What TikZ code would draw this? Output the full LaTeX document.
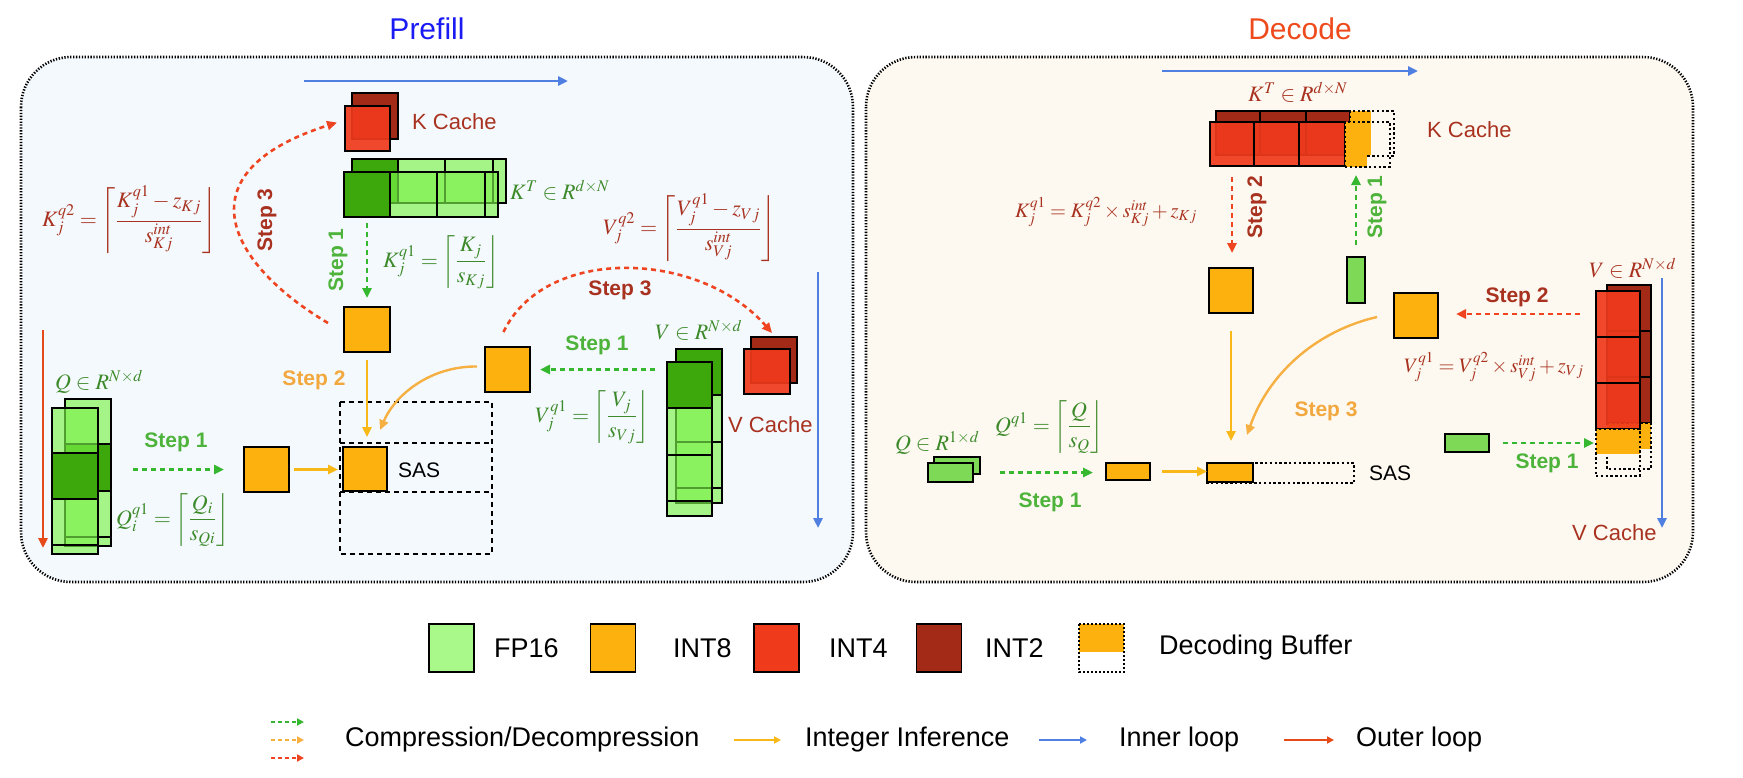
\documentclass[tikz,border=0pt]{standalone}
\usepackage{mathptmx}
\usepackage[no-math]{fontspec}
\setsansfont{Liberation Sans}
\usetikzlibrary{arrows.meta,calc}
\definecolor{cFP}{HTML}{A8F88A}
\definecolor{cBright}{HTML}{7CF24A}
\definecolor{cDG}{HTML}{3CA80C}
\definecolor{cI8}{HTML}{FCB10F}
\definecolor{cI4}{HTML}{F03A1C}
\definecolor{cI2}{HTML}{A32A17}
\definecolor{cDR}{HTML}{A8321F}
\definecolor{cGT}{HTML}{3D8A2A}
\definecolor{cGS}{HTML}{4DB33A}
\definecolor{cGA}{HTML}{35B830}
\definecolor{cOS}{HTML}{F2A83E}
\definecolor{cOA}{HTML}{F8B818}
\definecolor{cOL}{HTML}{F5B041}
\definecolor{cBlue}{HTML}{4F7FE0}
\definecolor{cOuter}{HTML}{E64A19}
\definecolor{cRA}{HTML}{EE4420}
\definecolor{cPre}{HTML}{F4F9FE}
\definecolor{cDec}{HTML}{FDF9F1}
\definecolor{cTB}{HTML}{1A1AF5}
\definecolor{cTR}{HTML}{EE4A1C}
\definecolor{cGM}{HTML}{7ED957}
\newcommand{\bx}[6]{\node[#1,minimum width={(#5-#3)*1pt},minimum height={(#6-#4)*1pt}] (#2) at ({(#3+#5)/2},{(#4+#6)/2}) {};}
\tikzset{
 panel/.style={line width=2.6pt, dash pattern=on 1.3pt off 1.6pt, rounded corners=50pt},
 blkbase/.style={draw=black, line width=2.2pt, inner sep=0pt, outer sep=0pt, rectangle},
 fpb/.style={blkbase, fill=cBright, fill opacity=0.65},
 dgb/.style={blkbase, fill=cDG},
 i8b/.style={blkbase, fill=cI8},
 i4b/.style={blkbase, fill=cI4, fill opacity=0.92},
 i2b/.style={blkbase, fill=cI2},
 gmb/.style={blkbase, fill=cGM},
 bufb/.style={draw=black, line width=2.4pt, dash pattern=on 2.4pt off 2.4pt, inner sep=0pt, outer sep=0pt, rectangle},
 bufline/.style={draw=black, line width=2.4pt, dash pattern=on 2.4pt off 2.4pt},
 sasdash/.style={draw=black, line width=2.6pt, dash pattern=on 5pt off 4pt},
 tipA/.style={-{Triangle[length=10pt,width=9pt]}},
 tipS/.style={-{Triangle[length=7pt,width=7pt]}},
 gdash/.style={draw=cGA, line width=2.6pt, dash pattern=on 5pt off 4pt, tipA},
 rdash/.style={draw=cRA, line width=2.6pt, dash pattern=on 5pt off 4pt, tipA},
 oarrow/.style={draw=cOA, line width=2.4pt, tipA},
 oarrowlight/.style={draw=cOL, line width=2.4pt, tipA},
 blueloop/.style={draw=cBlue, line width=2.6pt, tipA},
 outerloop/.style={draw=cOuter, line width=2.6pt, tipA},
 lbl/.style={font=\sffamily\fontsize{22}{26}\selectfont, inner sep=0pt},
 steplbl/.style={font=\sffamily\bfseries\fontsize{21}{25}\selectfont, inner sep=0pt},
 mth/.style={font=\fontsize{22}{26}\selectfont, inner sep=0pt},
 mths/.style={font=\fontsize{20.5}{24}\selectfont, inner sep=0pt},
 lgtxt/.style={font=\sffamily\fontsize{27}{31}\selectfont, inner sep=0pt, anchor=west},
 lgbox/.style={draw=black, line width=1.6pt, inner sep=0pt, outer sep=0pt, minimum width=45pt, minimum height=48pt},
}
\begin{document}
\begin{tikzpicture}[x=1pt,y=-1pt]
\useasboundingbox (0,0) rectangle (1743,777);
\fill[white] (0,0) rectangle (1743,777);

% panels and titles
\draw[panel, fill=cPre] (21,57) rectangle (853,582);
\draw[panel, fill=cDec] (866,57) rectangle (1693,582);
\node[font=\sffamily\fontsize{30}{34}\selectfont, text=cTB] (tpre) at (427,29) {Prefill};
\node[font=\sffamily\fontsize{30}{34}\selectfont, text=cTR] (tdec) at (1300,29) {Decode};

% ================= PREFILL =================
\coordinate (pil0) at (304,81); \coordinate (pil1) at (568,81);
\draw[blueloop] (pil0) -- (pil1);
\coordinate (piv0) at (818,272); \coordinate (piv1) at (818,528);
\draw[blueloop] (piv0) -- (piv1);
\coordinate (pol0) at (43,330); \coordinate (pol1) at (43,548);
\draw[outerloop] (pol0) -- (pol1);

% K cache
\bx{i2b}{pkc2}{352}{93}{398}{139}
\bx{i4b}{pkc4}{345}{106}{390}{151}
\node[lbl, text=cDR, anchor=west] (pkct) at (412,122) {K Cache};

% K^T blocks
\bx{dgb}{pkb1}{352}{159}{398}{203}
\bx{fpb}{pkb2}{398}{159}{445}{203}
\bx{fpb}{pkb3}{445}{159}{493}{203}
\bx{fpb}{pkb4}{493}{159}{506}{203}
\bx{dgb}{pkf1}{344}{172}{390}{217}
\bx{fpb}{pkf2}{390}{172}{437}{217}
\bx{fpb}{pkf3}{437}{172}{485}{217}
\bx{fpb}{pkf4}{485}{172}{498}{217}
\node[mth, text=cGT, anchor=west] (pktl) at (510,190) {$K^T \in R^{d\times N}$};

% Q stack
\bx{fpb}{pqb1}{65}{399}{111}{444}
\bx{dgb}{pqb2}{65}{444}{111}{491}
\bx{fpb}{pqb3}{65}{491}{111}{537}
\bx{fpb}{pqb4}{65}{537}{111}{546}
\bx{fpb}{pqf1}{52}{408}{98}{453}
\bx{dgb}{pqf2}{52}{453}{98}{499}
\bx{fpb}{pqf3}{52}{499}{98}{545}
\bx{fpb}{pqf4}{52}{545}{98}{554}
\node[mth, text=cGT, anchor=west] (pqtl) at (55,382) {$Q \in R^{N\times d}$};

% V stack
\bx{dgb}{pvb1}{676}{349}{722}{395}
\bx{fpb}{pvb2}{676}{395}{722}{442}
\bx{fpb}{pvb3}{676}{442}{722}{488}
\bx{fpb}{pvb4}{676}{488}{722}{503}
\bx{dgb}{pvf1}{667}{362}{712}{408}
\bx{fpb}{pvf2}{667}{408}{712}{455}
\bx{fpb}{pvf3}{667}{455}{712}{501}
\bx{fpb}{pvf4}{667}{501}{712}{516}
\node[mth, text=cGT, anchor=west] (pvtl) at (655,330) {$V \in R^{N\times d}$};

% V cache
\bx{i2b}{pvc2}{751}{337}{797}{383}
\bx{i4b}{pvc4}{744}{349}{790}{394}
\node[lbl, text=cDR, anchor=west] (pvct) at (728,425) {V Cache};

% INT8 squares and SAS
\bx{i8b}{pkq8}{344}{307}{390}{352}
\bx{i8b}{pqq8}{244}{447}{289}{492}
\bx{i8b}{pvq8}{485}{347}{530}{392}
\draw[sasdash] (340,402) rectangle (492,554);
\draw[sasdash] (340,443) -- (492,443);
\draw[sasdash] (340,492) -- (492,492);
\bx{i8b}{psq8}{343}{447}{387}{491}
\node[lbl, font=\sffamily\fontsize{21}{25}\selectfont, anchor=west] (psas) at (398,470) {SAS};

% formulas
\node[mth, text=cDR, anchor=west] (pfk2) at (42,220) {$\displaystyle K_j^{q2} = \left\lceil \frac{K_j^{q1} - z_{Kj}}{s_{Kj}^{int}} \right\rfloor$};
\node[mth, text=cGT, anchor=west] (pfk1) at (383,262) {$\displaystyle K_j^{q1} = \left\lceil \frac{K_j}{s_{Kj}} \right\rfloor$};
\node[mth, text=cDR, anchor=west] (pfv2) at (603,228) {$\displaystyle V_j^{q2} = \left\lceil \frac{V_j^{q1} - z_{Vj}}{s_{Vj}^{int}} \right\rfloor$};
\node[mth, text=cGT, anchor=west] (pfv1) at (535,417) {$\displaystyle V_j^{q1} = \left\lceil \frac{V_j}{s_{Vj}} \right\rfloor$};
\node[mth, text=cGT, anchor=west] (pfq1) at (116,520) {$\displaystyle Q_i^{q1} = \left\lceil \frac{Q_i}{s_{Qi}} \right\rfloor$};

% step labels
\node[steplbl, text=cDR, rotate=90] (ps3k) at (267,220) {Step 3};
\node[steplbl, text=cGS, rotate=90] (ps1k) at (338,260) {Step 1};
\node[steplbl, text=cDR] (ps3v) at (620,290) {Step 3};
\node[steplbl, text=cGS] (ps1v) at (597,345) {Step 1};
\node[steplbl, text=cOS] (ps2) at (314,380) {Step 2};
\node[steplbl, text=cGS] (ps1q) at (176,442) {Step 1};

% connectors
\draw[gdash, shorten <=6pt, shorten >=9pt] (pkf1.south) -- (pkq8.north);
\draw[rdash] ($(pkq8.north west)+(-16,16)$) .. controls (230,265) and (178,173) .. ($(pkc4.west)+(-8,-6)$);
\draw[oarrow, shorten <=8pt, shorten >=10pt] (pkq8.south) -- (pkq8.south |- psq8.north);
\coordinate (pq1s) at (133,469.5);
\draw[gdash, shorten >=20pt] (pq1s) -- (pqq8.west);
\draw[oarrow, shorten <=5pt, shorten >=5pt] (pqq8.east) -- (pqq8.east -| psq8.west);
\draw[gdash, shorten <=12pt, shorten >=10pt] (pvf1.west |- pvq8.east) -- (pvq8.east);
\draw[rdash] ($(pvq8.north)+(-4,-15)$) .. controls (545,245) and (700,250) .. ($(pvc4.north)+(5,-16)$);
\draw[oarrowlight] ($(pvq8.west)+(-8,-3)$) .. controls (430,366) and (395,395) .. ($(psq8.north east)+(-7,-17)$);

% ================= DECODE =================
\coordinate (dil0) at (1162,71); \coordinate (dil1) at (1418,71);
\draw[blueloop] (dil0) -- (dil1);
\coordinate (div0) at (1662,278); \coordinate (div1) at (1662,528);
\draw[blueloop] (div0) -- (div1);

\node[mth, text=cDR, anchor=west] (dktl) at (1248,92) {$K^T \in R^{d\times N}$};
\bx{i2b}{dkb1}{1216}{111}{1260}{155}
\bx{i2b}{dkb2}{1260}{111}{1306}{155}
\bx{i2b}{dkb3}{1306}{111}{1350}{155}
\fill[cI8] (1350,111) rectangle (1371,155);
\draw[bufline] (1350,111) rectangle (1394,156);
\bx{i4b}{dkf1}{1210}{122}{1254}{166}
\bx{i4b}{dkf2}{1254}{122}{1299}{166}
\bx{i4b}{dkf3}{1299}{122}{1345}{166}
\fill[cI8] (1345,122) rectangle (1367,167);
\bx{bufb}{dkbuf}{1345}{122}{1390}{167}
\node[lbl, text=cDR, anchor=west] (dkct) at (1427,130) {K Cache};

\bx{i8b}{dk8}{1209}{268}{1253}{313}
\bx{gmb}{dkg}{1347}{257}{1365}{303}
\bx{i8b}{dv8}{1394}{293}{1438}{338}

% V stack decode
\node[mth, text=cDR, anchor=west] (dvtl) at (1589,268) {$V \in R^{N\times d}$};
\bx{i2b}{dvb1}{1607}{285}{1651}{331}
\bx{i2b}{dvb2}{1607}{331}{1651}{377}
\bx{i2b}{dvb3}{1607}{377}{1651}{423}
\fill[cI8] (1607,423) rectangle (1651,449);
\draw[bufline] (1607,423) rectangle (1651,469);
\bx{i4b}{dvf1}{1596}{291}{1640}{337}
\bx{i4b}{dvf2}{1596}{337}{1640}{383}
\bx{i4b}{dvf3}{1596}{383}{1640}{429}
\fill[cI8] (1596,429) rectangle (1640,454);
\bx{bufb}{dvbuf}{1596}{429}{1640}{476}
\node[lbl, text=cDR, anchor=west] (dvct) at (1572,533) {V Cache};

\bx{gmb}{dvg}{1445}{434}{1489}{452}

% Q decode
\node[mth, text=cGT, anchor=west] (dqtl) at (895,443) {$Q \in R^{1\times d}$};
\node[mth, text=cGT, anchor=west] (dfq) at (995,427) {$\displaystyle Q^{q1} = \left\lceil \frac{Q}{s_{Q}} \right\rfloor$};
\bx{gmb}{dqb}{934}{457}{980}{474}
\bx{gmb}{dqf}{928}{463}{973}{482}
\bx{i8b}{dq8}{1106}{463}{1150}{480}
\draw[bufline] (1207,463) rectangle (1354,483);
\bx{i8b}{dsq8}{1207}{463}{1253}{482}
\node[lbl, font=\sffamily\fontsize{21}{25}\selectfont, anchor=west] (dsas) at (1369,473) {SAS};

% formulas decode
\node[mths, text=cDR, anchor=west] (dfk) at (1015,212) {$K_j^{q1} = K_j^{q2} \times s_{Kj}^{int} + z_{Kj}$};
\node[mths, text=cDR, anchor=west] (dfv) at (1404,367) {$V_j^{q1} = V_j^{q2} \times s_{Vj}^{int} + z_{Vj}$};

% step labels decode
\node[steplbl, text=cDR, rotate=90] (ds2k) at (1257,207) {Step 2};
\node[steplbl, text=cGS, rotate=90] (ds1k) at (1377,207) {Step 1};
\node[steplbl, text=cDR] (ds2v) at (1517,297) {Step 2};
\node[steplbl, text=cOS] (ds3) at (1326,411) {Step 3};
\node[steplbl, text=cGS] (ds1v) at (1547,463) {Step 1};
\node[steplbl, text=cGS] (ds1q) at (1050,502) {Step 1};

% connectors decode
\draw[rdash, shorten <=11pt, shorten >=15pt] (dkf1.south) -- (dkf1.south |- dk8.north);
\draw[gdash, shorten <=12pt, shorten >=8pt] (dkg.north) -- (dkg.north |- dkbuf.south);
\draw[oarrow, shorten <=18pt, shorten >=22pt] (dk8.south) -- (dk8.south |- dsq8.north);
\draw[oarrowlight] ($(dv8.west)+(-17,1.5)$) .. controls (1320,330) and (1270,370) .. ($(dsq8.north)+(17,-28)$);
\draw[rdash, shorten <=16pt, shorten >=18pt] (dvf1.west) -- (dvf1.west -| dv8.east);
\draw[gdash, shorten <=14pt, shorten >=2pt] (dvg.east) -- (dvg.east -| dvbuf.west);
\draw[gdash, shorten <=27pt, shorten >=13pt] (dqf.east) -- (dqf.east -| dq8.west);
\draw[oarrow, shorten <=12pt] (dq8.east) -- (dq8.east -| dsq8.west);

% ================= LEGEND =================
\node[lgbox, fill=cFP] (lfp) at (451.5,648) {};
\node[lgtxt] (lfpt) at (494,648) {FP16};
\node[lgbox, fill=cI8] (li8) at (613,648) {};
\node[lgtxt] (li8t) at (673,648) {INT8};
\node[lgbox, fill=cI4] (li4) at (776.5,648) {};
\node[lgtxt] (li4t) at (829,648) {INT4};
\node[lgbox, fill=cI2] (li2) at (939,648) {};
\node[lgtxt] (li2t) at (985,648) {INT2};
\fill[cI8] (1079,624) rectangle (1124,652);
\node[lgbox, draw=none] (lbuf) at (1101.5,648) {};
\draw[bufline, line width=2pt, dash pattern=on 2pt off 2pt] (lbuf.north west) rectangle (lbuf.south east);
\node[lgtxt] (lbuft) at (1159,648) {Decoding Buffer};

\coordinate (la1s) at (271,722); \coordinate (la1e) at (304,722);
\coordinate (la2s) at (271,740); \coordinate (la2e) at (304,740);
\coordinate (la3s) at (271,758); \coordinate (la3e) at (304,758);
\draw[gdash, line width=1.8pt, dash pattern=on 4pt off 3pt, tipS] (la1s) -- (la1e);
\draw[draw=cOL, line width=1.8pt, dash pattern=on 4pt off 3pt, tipS] (la2s) -- (la2e);
\draw[rdash, line width=1.8pt, dash pattern=on 4pt off 3pt, tipS] (la3s) -- (la3e);
\node[lgtxt] (lcomp) at (345,740) {Compression/Decompression};
\coordinate (lb1s) at (734,740); \coordinate (lb1e) at (781,740);
\draw[oarrow, line width=1.8pt, tipS] (lb1s) -- (lb1e);
\node[lgtxt] (lint) at (805,740) {Integer Inference};
\coordinate (lc1s) at (1039,740); \coordinate (lc1e) at (1087,740);
\draw[blueloop, line width=1.8pt, tipS] (lc1s) -- (lc1e);
\node[lgtxt] (linner) at (1119,740) {Inner loop};
\coordinate (ld1s) at (1284,740); \coordinate (ld1e) at (1334,740);
\draw[outerloop, line width=1.8pt, tipS] (ld1s) -- (ld1e);
\node[lgtxt] (louter) at (1356,740) {Outer loop};
\end{tikzpicture}
\end{document}
